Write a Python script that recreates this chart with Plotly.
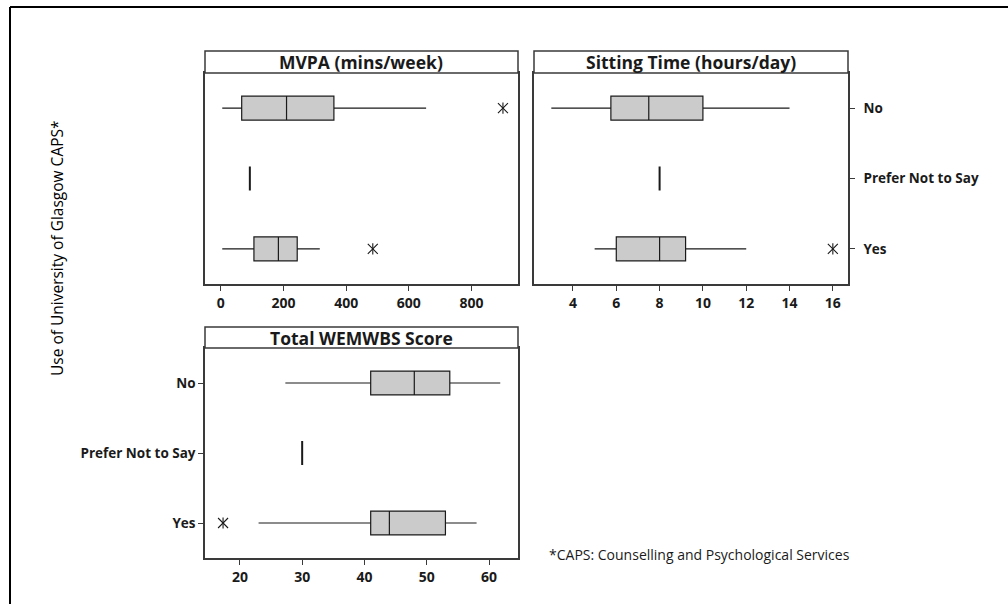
import plotly.graph_objects as go

# ---- data -----------------------------------------------------------------
groups = ["No", "Yes"]
single_group = "Prefer Not to Say"
category_order = ["Yes", "Prefer Not to Say", "No"]

# MVPA (mins/week)
mvpa_min = [5, 5]
mvpa_q1 = [67, 106]
mvpa_median = [210, 184]
mvpa_q3 = [361, 244]
mvpa_max = [655, 316]
mvpa_single = 93
mvpa_outlier_groups = ["No", "Yes"]
mvpa_outliers = [900, 485]
mvpa_ticks = [0, 200, 400, 600, 800]

# Sitting Time (hours/day)
sit_min = [3, 5]
sit_q1 = [5.75, 6]
sit_median = [7.5, 8]
sit_q3 = [10, 9.2]
sit_max = [14, 12]
sit_single = 8
sit_outlier_groups = ["Yes"]
sit_outliers = [16]
sit_ticks = [4, 6, 8, 10, 12, 14, 16]

# Total WEMWBS Score
wem_min = [27.3, 23]
wem_q1 = [41, 41]
wem_median = [48, 44]
wem_q3 = [53.7, 53]
wem_max = [61.8, 58]
wem_single = 30
wem_outlier_groups = ["Yes"]
wem_outliers = [17.3]
wem_ticks = [20, 30, 40, 50, 60]

panel_titles = ["MVPA (mins/week)", "Sitting Time (hours/day)", "Total WEMWBS Score"]
y_title = "Use of University of Glasgow CAPS*"
footnote = "*CAPS: Counselling and Psychological Services"

# ---- styling --------------------------------------------------------------
W, H = 1008, 604
FONT = "Open Sans"
INK = "#1a1a1a"
FRAME = "#3a3a3a"
BOX_FILL = "#cbcbcb"
BOX_W = 0.34


def px_x(p):
    return p / W


def px_y(p):
    return 1 - p / H


fig = go.Figure()


def add_panel(ax, lo, q1, med, q3, hi, single, out_groups, outs):
    xa, ya = ("x" if ax == 1 else f"x{ax}"), ("y" if ax == 1 else f"y{ax}")
    fig.add_trace(go.Box(
        y=groups, q1=q1, median=med, q3=q3, lowerfence=lo, upperfence=hi,
        orientation="h", width=BOX_W, whiskerwidth=0, boxpoints=False,
        fillcolor=BOX_FILL, line=dict(color=INK, width=1.2),
        xaxis=xa, yaxis=ya, showlegend=False, hoverinfo="skip",
    ))
    fig.add_trace(go.Box(
        y=[single_group], q1=[single], median=[single], q3=[single],
        lowerfence=[single], upperfence=[single],
        orientation="h", width=BOX_W, whiskerwidth=0, boxpoints=False,
        fillcolor=INK, line=dict(color=INK, width=2),
        xaxis=xa, yaxis=ya, showlegend=False, hoverinfo="skip",
    ))
    # outliers drawn as a six-armed asterisk (x plus a vertical stroke)
    for sym, size in (("x-thin-open", 10), ("line-ns-open", 8)):
        fig.add_trace(go.Scatter(
            x=outs, y=out_groups, mode="markers",
            marker=dict(symbol=sym, size=size, color=INK,
                        line=dict(color=INK, width=1.1)),
            xaxis=xa, yaxis=ya, showlegend=False, hoverinfo="skip",
        ))


add_panel(1, mvpa_min, mvpa_q1, mvpa_median, mvpa_q3, mvpa_max,
          mvpa_single, mvpa_outlier_groups, mvpa_outliers)
add_panel(2, sit_min, sit_q1, sit_median, sit_q3, sit_max,
          sit_single, sit_outlier_groups, sit_outliers)
add_panel(3, wem_min, wem_q1, wem_median, wem_q3, wem_max,
          wem_single, wem_outlier_groups, wem_outliers)

x_tick_font = dict(family=FONT, size=14, color=INK, weight="bold")
y_tick_font = dict(family=FONT, size=13.5, color=INK, weight="bold")

left_dom = [px_x(205), px_x(518)]
right_dom = [px_x(534), px_x(848)]
top_dom = [px_y(284), px_y(73)]
bot_dom = [px_y(558), px_y(348)]

common_x = dict(showline=True, mirror=True, linecolor=FRAME, linewidth=1.5,
                ticks="outside", ticklen=5, tickcolor=FRAME, tickwidth=1.2,
                showgrid=False, zeroline=False, tickfont=x_tick_font, fixedrange=True)
common_y = dict(type="category", categoryorder="array", categoryarray=category_order,
                range=[-0.5, 2.5], showline=True, mirror=True, linecolor=FRAME,
                linewidth=1.5, showgrid=False, zeroline=False, tickfont=y_tick_font,
                fixedrange=True)

fig.update_layout(
    width=W, height=H,
    margin=dict(l=0, r=0, t=0, b=0),
    paper_bgcolor="white", plot_bgcolor="white",
    font=dict(family=FONT, color=INK),
    xaxis=dict(domain=left_dom, anchor="y", range=[-50, 948],
               tickvals=mvpa_ticks, **common_x),
    yaxis=dict(domain=top_dom, anchor="x", ticks="", showticklabels=False, **common_y),
    xaxis2=dict(domain=right_dom, anchor="y2", range=[2.2, 16.7],
                tickvals=sit_ticks, **common_x),
    yaxis2=dict(domain=top_dom, anchor="x2", side="right", ticks="outside",
                ticklen=5, tickcolor=FRAME, tickwidth=1.2, ticklabelstandoff=6,
                **common_y),
    xaxis3=dict(domain=left_dom, anchor="y3", range=[14.4, 64.65],
                tickvals=wem_ticks, **common_x),
    yaxis3=dict(domain=bot_dom, anchor="x3", side="left", ticks="outside",
                ticklen=5, tickcolor=FRAME, tickwidth=1.2, **common_y),
)

# panel header strips
strips = [
    (left_dom, (px_y(73), px_y(51))),
    (right_dom, (px_y(73), px_y(51))),
    (left_dom, (px_y(348), px_y(327))),
]
shapes = []
annotations = []
for (xd, yd), title in zip(strips, panel_titles):
    shapes.append(dict(type="rect", xref="paper", yref="paper",
                       x0=xd[0], x1=xd[1], y0=yd[0], y1=yd[1],
                       line=dict(color=FRAME, width=1.5), fillcolor="white",
                       layer="above"))
    annotations.append(dict(text=title, xref="paper", yref="paper",
                            x=(xd[0] + xd[1]) / 2, y=(yd[0] + yd[1]) / 2,
                            xanchor="center", yanchor="middle", showarrow=False,
                            font=dict(family=FONT, size=17.5, color=INK, weight="bold")))

# outer frame (top and left edges)
shapes.append(dict(type="line", xref="paper", yref="paper",
                   x0=px_x(10), x1=1, y0=px_y(7), y1=px_y(7),
                   line=dict(color="black", width=2)))
shapes.append(dict(type="line", xref="paper", yref="paper",
                   x0=px_x(10), x1=px_x(10), y0=px_y(7), y1=0,
                   line=dict(color="black", width=2)))

annotations.append(dict(text=y_title, xref="paper", yref="paper",
                        x=px_x(57), y=px_y(248), textangle=-90,
                        xanchor="center", yanchor="middle", showarrow=False,
                        font=dict(family=FONT, size=15.5, color="black")))
annotations.append(dict(text=footnote, xref="paper", yref="paper",
                        x=px_x(547), y=px_y(554), xanchor="left", yanchor="middle",
                        showarrow=False,
                        font=dict(family=FONT, size=14, color=INK)))

fig.update_layout(shapes=shapes, annotations=annotations)

fig.write_html("out.html")
